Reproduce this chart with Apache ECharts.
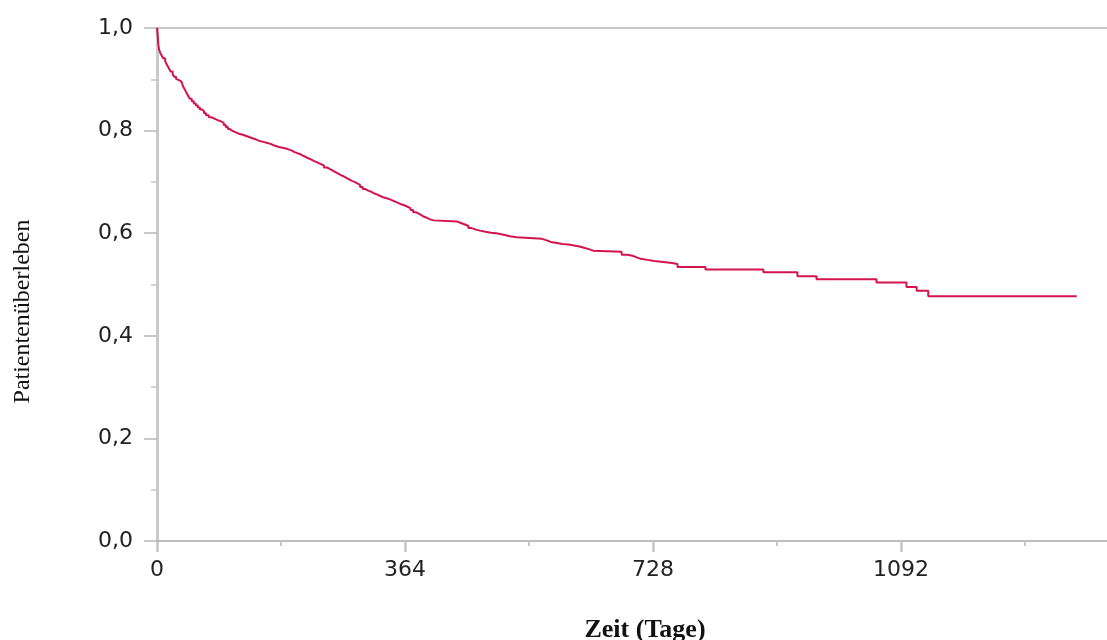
<!DOCTYPE html>
<html>
<head>
<meta charset="utf-8">
<script src="https://cdn.jsdelivr.net/npm/echarts@6/dist/echarts.min.js"></script>
<style>
html,body{margin:0;padding:0;background:#fff;}
#chart{width:1107px;height:640px;}
</style>
</head>
<body>
<div id="chart"></div>
<script>
// Kaplan-Meier step data (time in days, survival proportion)
const days = [0,1,2,3,5,7,9,12,14,16,18,20,23,25,28,30,33,36,38,40,42,44,46,48,51,54,57,60,63,66,69,72,76,80,85,90,94,98,101,104,107,110,115,120,126,132,136,140,145,150,156,162,167,172,179,186,192,198,202,206,210,214,218,222,226,230,235,240,245,250,254,258,262,266,270,274,278,282,286,290,294,298,302,306,310,314,318,322,327,332,337,342,347,352,357,362,367,372,376,380,384,388,392,396,401,406,440,446,452,457,462,468,474,482,490,498,505,512,518,528,565,572,578,587,595,604,612,620,628,634,640,682,690,698,704,710,720,730,743,756,764,805,890,940,968,1056,1100,1115,1132,1350];
const survival = [1.0,0.985,0.968,0.958,0.951,0.946,0.941,0.935,0.930,0.925,0.920,0.915,0.910,0.905,0.901,0.898,0.895,0.892,0.887,0.882,0.877,0.872,0.867,0.862,0.857,0.853,0.849,0.845,0.841,0.838,0.834,0.830,0.826,0.823,0.820,0.818,0.815,0.811,0.807,0.803,0.800,0.797,0.794,0.792,0.789,0.787,0.785,0.783,0.780,0.778,0.776,0.774,0.771,0.768,0.766,0.764,0.761,0.758,0.756,0.754,0.751,0.749,0.746,0.744,0.741,0.738,0.735,0.732,0.728,0.725,0.722,0.719,0.716,0.713,0.711,0.708,0.705,0.702,0.700,0.697,0.694,0.690,0.686,0.683,0.681,0.678,0.676,0.673,0.670,0.668,0.666,0.663,0.660,0.657,0.655,0.652,0.649,0.645,0.641,0.638,0.635,0.632,0.630,0.627,0.625,0.623,0.620,0.617,0.614,0.610,0.607,0.605,0.603,0.601,0.600,0.598,0.596,0.594,0.592,0.589,0.586,0.583,0.581,0.579,0.578,0.576,0.574,0.571,0.569,0.566,0.564,0.558,0.556,0.553,0.550,0.548,0.546,0.544,0.542,0.540,0.534,0.529,0.524,0.516,0.510,0.504,0.495,0.488,0.477,0.477];
const xTickValues = [0,364,728,1092];
const xTickLabels = ['0','364','728','1092'];
const yTickValues = [0,0.2,0.4,0.6,0.8,1.0];
const yTickLabels = ['0,0','0,2','0,4','0,6','0,8','1,0'];
const xAxisName = 'Zeit (Tage)';
const yAxisName = 'Patientenüberleben';

const seriesData = days.map((d, i) => [d, survival[i]]);

const chart = echarts.init(document.getElementById('chart'), null, {renderer: 'canvas'});
chart.setOption({
  animation: false,
  backgroundColor: '#ffffff',
  grid: {left: 157, right: -42, top: 28, bottom: 99, containLabel: false, outerBoundsMode: 'none'},
  xAxis: [{
    type: 'value', min: 0, max: 1456, interval: 364,
    name: xAxisName, nameLocation: 'middle', nameGap: 76,
    nameTextStyle: {fontFamily: 'Liberation Serif', fontWeight: 'bold', fontSize: 26, color: '#111', padding: [0, 16, 0, 0]},
    axisLine: {show: true, onZero: false, lineStyle: {color: '#a9a9a9', width: 1.5}},
    axisTick: {show: true, length: 11, lineStyle: {color: '#c4c4c4', width: 2.5}},
    minorTick: {show: true, splitNumber: 2, length: 5, lineStyle: {color: '#c4c4c4', width: 2}},
    splitLine: {show: false},
    axisLabel: {
      margin: 18, fontFamily: 'DejaVu Sans', fontSize: 22, color: '#222', showMaxLabel: false,
      formatter: v => { const k = xTickValues.indexOf(v); return k >= 0 ? xTickLabels[k] : ''; }
    }
  }, {
    type: 'value', min: 0, max: 1456, position: 'top',
    axisLine: {show: true, onZero: false, lineStyle: {color: '#b4b4b4', width: 1.5}},
    axisTick: {show: false}, axisLabel: {show: false}, splitLine: {show: false}
  }],
  yAxis: {
    type: 'value', min: 0, max: 1, interval: 0.2,
    name: yAxisName, nameLocation: 'middle', nameGap: 122, nameRotate: 90,
    nameTextStyle: {fontFamily: 'Liberation Serif', fontSize: 24, color: '#111', padding: [0, 54, 0, 0]},
    axisLine: {show: true, onZero: false, lineStyle: {color: '#cacaca', width: 3}},
    axisTick: {show: true, length: 13, lineStyle: {color: '#b8b8b8', width: 1.5}},
    minorTick: {show: true, splitNumber: 2, length: 6, lineStyle: {color: '#c4c4c4', width: 1.5}},
    splitLine: {show: false},
    axisLabel: {
      margin: 24, fontFamily: 'DejaVu Sans', fontSize: 22, color: '#222',
      formatter: v => { const k = yTickValues.findIndex(t => Math.abs(t - v) < 1e-9); return k >= 0 ? yTickLabels[k] : ''; }
    }
  },
  series: [{
    type: 'line', step: 'end', data: seriesData, xAxisIndex: 0,
    symbol: 'none', lineStyle: {color: '#d4144e', width: 2}, clip: true
  }]
});
</script>
</body>
</html>
